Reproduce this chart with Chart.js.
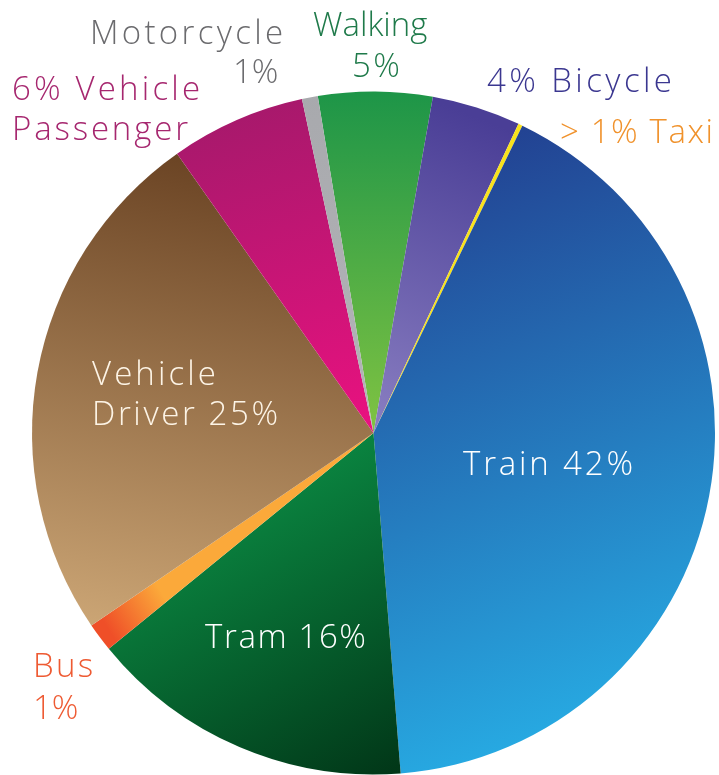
<!DOCTYPE html>
<html>
<head>
<meta charset="utf-8">
<script src="https://cdn.jsdelivr.net/npm/chart.js@4.4.1/dist/chart.umd.min.js"></script>
<style>
  html, body { margin: 0; padding: 0; background: #ffffff; }
  #wrap { width: 719px; height: 775px; position: relative; }
</style>
</head>
<body>
<div id="wrap"><canvas id="c" width="719" height="775"></canvas></div>
<script>
// ---- data ----
const categories = ["Walking", "Bicycle", "Taxi", "Train", "Tram", "Bus", "Vehicle Driver", "Vehicle Passenger", "Motorcycle"];
const shares = [5.4, 4.2, 0.2, 41.6, 15.4, 1.36, 24.8, 6.4, 0.75];
const labelTexts = [
  ["Walking", "5%"],
  ["4% Bicycle"],
  ["> 1% Taxi"],
  ["Train 42%"],
  ["Tram 16%"],
  ["Bus", "1%"],
  ["Vehicle", "Driver 25%"],
  ["6% Vehicle", "Passenger"],
  ["Motorcycle", "1%"]
];

// ---- styles ----
// gradient: [x0, y0, x1, y1] in chart-area fractions, then colors
const sliceStyles = [
  { g: [0.5, 0.0, 0.5, 0.5], c: ["#1d9548", "#80c342"] },
  { g: [0.68, 0.05, 0.5, 0.5], c: ["#4a3e96", "#8a7fc2"] },
  { g: [0.5, 0.0, 0.5, 0.5], c: ["#f8e21c", "#f8e21c"] },
  { g: [0.45, 0.08, 0.78, 0.95], c: ["#223a8c", "#27abe3"] },
  { g: [0.3, 0.55, 0.55, 1.0], c: ["#0b8c44", "#013517"] },
  { g: [0.2, 0.75, 0.12, 0.8], c: ["#fba93a", "#ef4f28"] },
  { g: [0.25, 0.1, 0.12, 0.78], c: ["#6b4424", "#caa474"] },
  { g: [0.35, 0.0, 0.5, 0.5], c: ["#a5196b", "#ea1180"] },
  { g: [0.5, 0.0, 0.5, 0.5], c: ["#a8a9ad", "#b3b4b8"] }
];
// pos: [left x, baseline y, width of line]
const labelStyles = [
  { color: "#1f7a4a", pos: [[313, 36, 112], [352, 77, 48]] },
  { color: "#3b3790", pos: [[487, 92, 185]] },
  { color: "#f0922c", pos: [[560, 143, 153]] },
  { color: "#ffffff", pos: [[463, 475, 170]] },
  { color: "#ffffff", pos: [[205, 648, 161]] },
  { color: "#ee5a32", pos: [[33, 677, 60], [33, 719, 39]] },
  { color: "#fdf4e6", pos: [[92, 385, 124], [92, 425, 186]] },
  { color: "#a6276f", pos: [[12, 100, 188], [12, 140, 176]] },
  { color: "#6b6b6e", pos: [[90, 44, 193], [233, 83, 39]] }
];
const FONT = '300 33px "Open Sans", "DejaVu Sans", sans-serif';

function sliceColor(ctx) {
  const chart = ctx.chart;
  const area = chart.chartArea;
  const s = sliceStyles[ctx.dataIndex];
  if (!area) return s.c[0];
  const w = area.right - area.left, h = area.bottom - area.top;
  const gr = chart.ctx.createLinearGradient(
    area.left + s.g[0] * w, area.top + s.g[1] * h,
    area.left + s.g[2] * w, area.top + s.g[3] * h);
  gr.addColorStop(0, s.c[0]);
  gr.addColorStop(1, s.c[1]);
  return gr;
}

const labelPlugin = {
  id: "sliceLabels",
  afterDraw(chart) {
    const ctx = chart.ctx;
    ctx.save();
    ctx.font = FONT;
    ctx.textAlign = "left";
    ctx.textBaseline = "alphabetic";
    labelTexts.forEach((lines, i) => {
      const st = labelStyles[i];
      ctx.fillStyle = st.color;
      lines.forEach((t, j) => {
        const [x, y, target] = st.pos[j];
        if ("letterSpacing" in ctx) {
          ctx.letterSpacing = "0px";
          const m = ctx.measureText(t).width;
          const sp = Math.max(0, (target - m) / Math.max(1, t.length - 1));
          ctx.letterSpacing = sp.toFixed(2) + "px";
        }
        ctx.fillText(t, x, y);
      });
    });
    ctx.restore();
  }
};

new Chart(document.getElementById("c"), {
  type: "pie",
  data: {
    labels: categories,
    datasets: [{
      data: shares,
      backgroundColor: sliceColor,
      borderWidth: 0
    }]
  },
  options: {
    responsive: false,
    animation: false,
    rotation: -9.4,
    layout: { padding: { left: 32, right: 4, top: 91, bottom: 0 } },
    plugins: { legend: { display: false }, tooltip: { enabled: false } }
  },
  plugins: [labelPlugin]
});
</script>
</body>
</html>
